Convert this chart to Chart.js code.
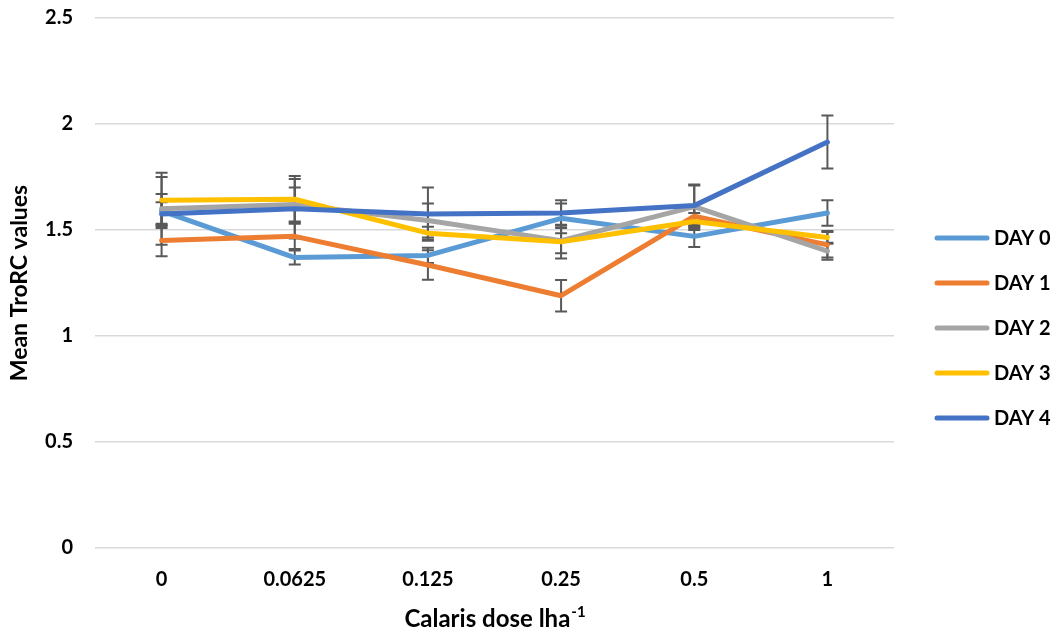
<!DOCTYPE html>
<html>
<head>
<meta charset="utf-8">
<style>
  html, body { margin: 0; padding: 0; background: #ffffff; }
  #wrap { width: 1060px; height: 640px; position: relative; }
</style>
<script src="https://cdn.jsdelivr.net/npm/chart.js@4.4.1/dist/chart.umd.min.js"></script>
</head>
<body>
<div id="wrap"><canvas id="chart" width="1060" height="640"></canvas></div>
<script>
// Calaris dose levels (l ha-1)
const doses = ['0', '0.0625', '0.125', '0.25', '0.5', '1'];

// Mean TroRC values per day
const day0 = [1.59, 1.37, 1.38, 1.555, 1.47, 1.58];
const day1 = [1.45, 1.47, 1.335, 1.19, 1.565, 1.43];
const day2 = [1.60, 1.62, 1.545, 1.45, 1.61, 1.40];
const day3 = [1.64, 1.645, 1.485, 1.445, 1.54, 1.465];
const day4 = [1.575, 1.60, 1.575, 1.58, 1.615, 1.915];

// Error bar half-lengths per day
const err0 = [0.16, 0.033, 0.036, 0.07, 0.05, 0.06];
const err1 = [0.074, 0.06, 0.07, 0.074, 0.04, 0.06];
const err2 = [0.07, 0.08, 0.08, 0.06, 0.10, 0.04];
const err3 = [0.13, 0.11, 0.03, 0.08, 0.04, 0.03];
const err4 = [0.056, 0.14, 0.126, 0.06, 0.10, 0.125];

const dayLabels = ['DAY 0', 'DAY 1', 'DAY 2', 'DAY 3', 'DAY 4'];
const yTicks = [0, 0.5, 1, 1.5, 2, 2.5];

const colors = ['#5B9BD5', '#ED7D31', '#A5A5A5', '#FFC000', '#4472C4'];
const seriesValues = [day0, day1, day2, day3, day4];
const seriesErrors = [err0, err1, err2, err3, err4];

const FONT = 'Lato, "Open Sans", "Liberation Sans", sans-serif';

const datasets = seriesValues.map((vals, i) => ({
  label: dayLabels[i],
  data: vals,
  errors: seriesErrors[i],
  borderColor: colors[i],
  backgroundColor: colors[i],
  borderWidth: 5,
  borderCapStyle: 'round',
  borderJoinStyle: 'round',
  pointRadius: 0,
  pointHoverRadius: 0,
  tension: 0,
  fill: false,
  order: seriesValues.length - i   // later days drawn on top
}));

// Error bars drawn beneath the lines
const errorBars = {
  id: 'errorBars',
  beforeDatasetsDraw(chart) {
    const ctx = chart.ctx;
    const y = chart.scales.y;
    ctx.save();
    ctx.strokeStyle = '#595959';
    ctx.lineWidth = 2;
    ctx.lineCap = 'butt';
    chart.data.datasets.forEach((ds, di) => {
      const meta = chart.getDatasetMeta(di);
      meta.data.forEach((pt, i) => {
        const v = ds.data[i], e = ds.errors[i];
        const yTop = y.getPixelForValue(v + e);
        const yBot = y.getPixelForValue(v - e);
        const x = pt.x;
        ctx.beginPath();
        ctx.moveTo(x, yTop); ctx.lineTo(x, yBot);
        ctx.moveTo(x - 6, yTop); ctx.lineTo(x + 6, yTop);
        ctx.moveTo(x - 6, yBot); ctx.lineTo(x + 6, yBot);
        ctx.stroke();
      });
    });
    ctx.restore();
  }
};

// Legend on the right: line sample followed by the day label
const dayLegend = {
  id: 'dayLegend',
  afterDraw(chart) {
    const ctx = chart.ctx;
    const a = chart.chartArea;
    const lineStart = a.right + 43;
    const lineEnd = lineStart + 50;
    const top = 238, step = 45;
    ctx.save();
    ctx.font = 'bold 20px ' + FONT;
    ctx.textBaseline = 'middle';
    ctx.textAlign = 'left';
    chart.data.datasets.forEach((ds, i) => {
      const yy = top + i * step;
      ctx.strokeStyle = ds.borderColor;
      ctx.lineWidth = 5;
      ctx.lineCap = 'round';
      ctx.beginPath();
      ctx.moveTo(lineStart, yy);
      ctx.lineTo(lineEnd, yy);
      ctx.stroke();
      ctx.fillStyle = '#000000';
      ctx.fillText(ds.label, lineEnd + 7, yy + 1);
    });
    ctx.restore();
  }
};

// X-axis title with superscript unit
const xTitle = {
  id: 'xTitle',
  afterDraw(chart) {
    const ctx = chart.ctx;
    const a = chart.chartArea;
    const main = 'Calaris dose lha';
    const sup = '-1';
    ctx.save();
    ctx.fillStyle = '#000000';
    ctx.textBaseline = 'alphabetic';
    ctx.font = 'bold 24px ' + FONT;
    const wMain = ctx.measureText(main).width;
    ctx.font = 'bold 15px ' + FONT;
    const wSup = ctx.measureText(sup).width;
    const cx = (a.left + a.right) / 2;
    const x0 = cx - (wMain + wSup) / 2;
    const base = 627;
    ctx.font = 'bold 24px ' + FONT;
    ctx.textAlign = 'left';
    ctx.fillText(main, x0, base);
    ctx.font = 'bold 15px ' + FONT;
    ctx.fillText(sup, x0 + wMain + 1, base - 10);
    ctx.restore();
  }
};

new Chart(document.getElementById('chart'), {
  type: 'line',
  data: { labels: doses, datasets },
  options: {
    responsive: false,
    animation: false,
    devicePixelRatio: 1,
    layout: { padding: { left: 5, top: 18, right: 166, bottom: 0 } },
    plugins: {
      tooltip: { enabled: false },
      legend: { display: false }
    },
    scales: {
      x: {
        offset: true,
        grid: { display: false, drawTicks: false },
        border: { display: false },
        ticks: {
          padding: 20,
          color: '#000000',
          font: { family: FONT, size: 20, weight: 'bold' },
          maxRotation: 0
        },
        afterFit(scale) {
          scale.height = 92;
          scale.paddingLeft = 0;
          scale.paddingRight = 0;
        }
      },
      y: {
        min: 0,
        max: 2.5,
        afterBuildTicks(scale) { scale.ticks = yTicks.map(v => ({ value: v })); },
        grid: { color: '#D9D9D9', lineWidth: 1.5, drawTicks: false },
        border: { display: false },
        ticks: {
          padding: 22,
          color: '#000000',
          font: { family: FONT, size: 20, weight: 'bold' },
          callback: (v) => String(v)
        },
        title: {
          display: true,
          text: 'Mean TroRC values',
          color: '#000000',
          font: { family: FONT, size: 23, weight: 'bold' },
          padding: { top: 1, bottom: 0 }
        },
        afterFit(scale) {
          scale.width = 90;
          scale.paddingTop = 0;
          scale.paddingBottom = 0;
        }
      }
    }
  },
  plugins: [errorBars, dayLegend, xTitle]
});
</script>
</body>
</html>
